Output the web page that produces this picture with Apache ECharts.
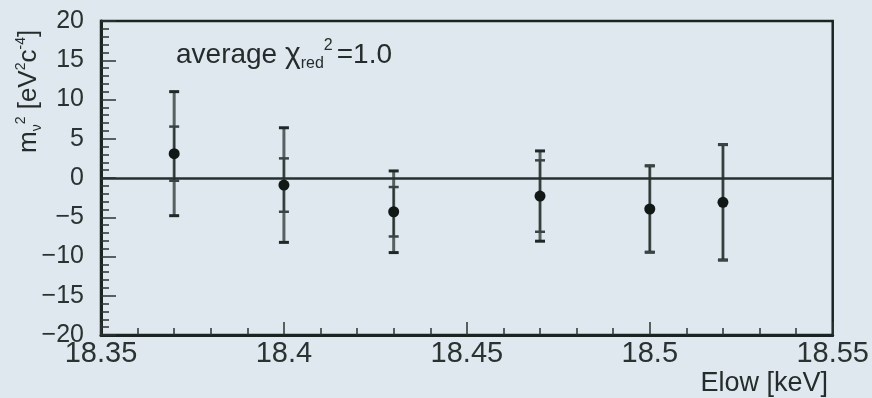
<!DOCTYPE html>
<html>
<head>
<meta charset="utf-8">
<script src="https://cdn.jsdelivr.net/npm/echarts@6/dist/echarts.min.js"></script>
<style>
html,body{margin:0;padding:0;background:#dfe8ee;}
#c{width:872px;height:398px;}
</style>
</head>
<body>
<div id="c"></div>
<script>
// Data
const elow = [18.37, 18.40, 18.43, 18.47, 18.50, 18.52];
const mnu2 = [3.1, -0.9, -4.3, -2.3, -3.95, -3.1];
const statErr = [3.45, 3.4, 3.15, 4.55, 5.5, 7.35];
const totErr = [7.9, 7.3, 5.2, 5.75, 5.5, 7.35];
const xTicks = [18.35, 18.40, 18.45, 18.50, 18.55];
const yTicks = [-20, -15, -10, -5, 0, 5, 10, 15, 20];

const FONT = "'Liberation Sans', Arial, sans-serif";
const INK = '#1c2422';

const chart = echarts.init(document.getElementById('c'), null, {renderer: 'canvas'});

const pts = elow.map((x, i) => [x, mnu2[i], statErr[i], totErr[i]]);

function renderBar(params, api) {
  const x = api.value(0), y = api.value(1), s = api.value(2), t = api.value(3);
  const oT = api.coord([x, y + t]), oB = api.coord([x, y - t]);
  const iT = api.coord([x, y + s]), iB = api.coord([x, y - s]);
  const cw = 5;
  const ch = [
    {type: 'line', shape: {x1: oT[0], y1: oT[1], x2: oB[0], y2: oB[1]}, style: {stroke: '#56625f', lineWidth: 3}},
    {type: 'line', shape: {x1: iT[0], y1: iT[1], x2: iB[0], y2: iB[1]}, style: {stroke: '#2b3432', lineWidth: 1.5}},
    {type: 'line', shape: {x1: oT[0] - cw, y1: oT[1], x2: oT[0] + cw, y2: oT[1]}, style: {stroke: '#1f2826', lineWidth: 3}},
    {type: 'line', shape: {x1: oB[0] - cw, y1: oB[1], x2: oB[0] + cw, y2: oB[1]}, style: {stroke: '#1f2826', lineWidth: 3}},
    {type: 'line', shape: {x1: iT[0] - cw, y1: iT[1], x2: iT[0] + cw, y2: iT[1]}, style: {stroke: '#3a4442', lineWidth: 2.5}},
    {type: 'line', shape: {x1: iB[0] - cw, y1: iB[1], x2: iB[0] + cw, y2: iB[1]}, style: {stroke: '#3a4442', lineWidth: 2.5}}
  ];
  return {type: 'group', children: ch};
}

const option = {
  backgroundColor: '#dfe8ee',
  animation: false,
  grid: {left: 101, right: 39, top: 21, bottom: 63, show: true, borderColor: INK, borderWidth: 2.5, backgroundColor: 'transparent'},
  xAxis: {
    type: 'value', min: xTicks[0], max: xTicks[xTicks.length - 1], interval: 0.05,
    axisLine: {show: true, onZero: false, lineStyle: {color: INK, width: 3}},
    axisTick: {show: true, inside: true, length: 13, lineStyle: {color: '#2a3331', width: 1.5}},
    minorTick: {show: true, splitNumber: 5, length: 7, lineStyle: {color: '#2a3331', width: 1.5}},
    splitLine: {show: false},
    axisLabel: {
      show: true, showMinLabel: true, showMaxLabel: true, fontSize: 29, margin: 4, color: '#2a3331', fontFamily: FONT,
      formatter: v => String(Math.round(v * 100) / 100)
    }
  },
  yAxis: {
    type: 'value', min: yTicks[0], max: yTicks[yTicks.length - 1], interval: 5,
    axisLine: {show: true, onZero: false, lineStyle: {color: INK, width: 3}},
    axisTick: {show: true, inside: true, length: 15, lineStyle: {color: '#2a3331', width: 1.5}},
    minorTick: {show: true, splitNumber: 5, length: 8, lineStyle: {color: '#2a3331', width: 1.5}},
    splitLine: {show: false},
    axisLabel: {
      fontSize: 25, margin: 17, color: '#2a3331', fontFamily: FONT,
      formatter: v => String(v).replace('-', '\u2212')
    }
  },
  series: [
    {type: 'custom', renderItem: renderBar, data: pts, z: 3, encode: {x: 0, y: 1}},
    {
      type: 'scatter', data: pts.map(p => [p[0], p[1]]), symbolSize: 11, itemStyle: {color: '#121816', opacity: 1}, z: 4,
      markLine: {silent: true, symbol: 'none', label: {show: false}, lineStyle: {color: '#27302e', width: 2.5, type: 'solid'}, data: [{yAxis: 0}]}
    }
  ],
  graphic: [
    {
      type: 'text', x: 176, y: 55, z: 10,
      style: {
        text: '{a|average }{c|\u03c7}{s|red}{p|2}{a|=1.0}',
        textVerticalAlign: 'middle', fill: INK, fontFamily: FONT,
        rich: {
          a: {fontSize: 28, fontFamily: FONT, fill: '#252d2b', lineHeight: 34},
          c: {fontSize: 30, fontFamily: FONT, fill: '#252d2b', lineHeight: 34},
          s: {fontSize: 16, fontFamily: FONT, fill: '#252d2b', verticalAlign: 'bottom', lineHeight: 34, padding: [12, 0, 0, 0]},
          p: {fontSize: 16, fontFamily: FONT, fill: '#252d2b', verticalAlign: 'top', lineHeight: 34, padding: [0, 4, 8, 0]}
        }
      }
    },
    {
      type: 'text', x: 29, y: 153, rotation: Math.PI / 2, z: 10,
      style: {
        text: '{a|m}{s|\u03bd}{p|2}{a| [eV}{p|2}{a|c}{p|-4}{a|]}',
        textAlign: 'left', textVerticalAlign: 'middle', fill: INK, fontFamily: FONT,
        rich: {
          a: {fontSize: 26, fontFamily: FONT, fill: '#252d2b', lineHeight: 30},
          s: {fontSize: 14, fontFamily: FONT, fill: '#252d2b', verticalAlign: 'bottom', lineHeight: 30, padding: [10, 0, 0, 0]},
          p: {fontSize: 14, fontFamily: FONT, fill: '#252d2b', verticalAlign: 'top', lineHeight: 30, padding: [0, 0, 10, 0]}
        }
      }
    },
    {
      type: 'text', x: 828, y: 384, z: 10,
      style: {text: 'Elow [keV]', textAlign: 'right', textVerticalAlign: 'middle', fontSize: 27, fontFamily: FONT, fill: '#252d2b'}
    }
  ]
};
chart.setOption(option);
</script>
</body>
</html>
